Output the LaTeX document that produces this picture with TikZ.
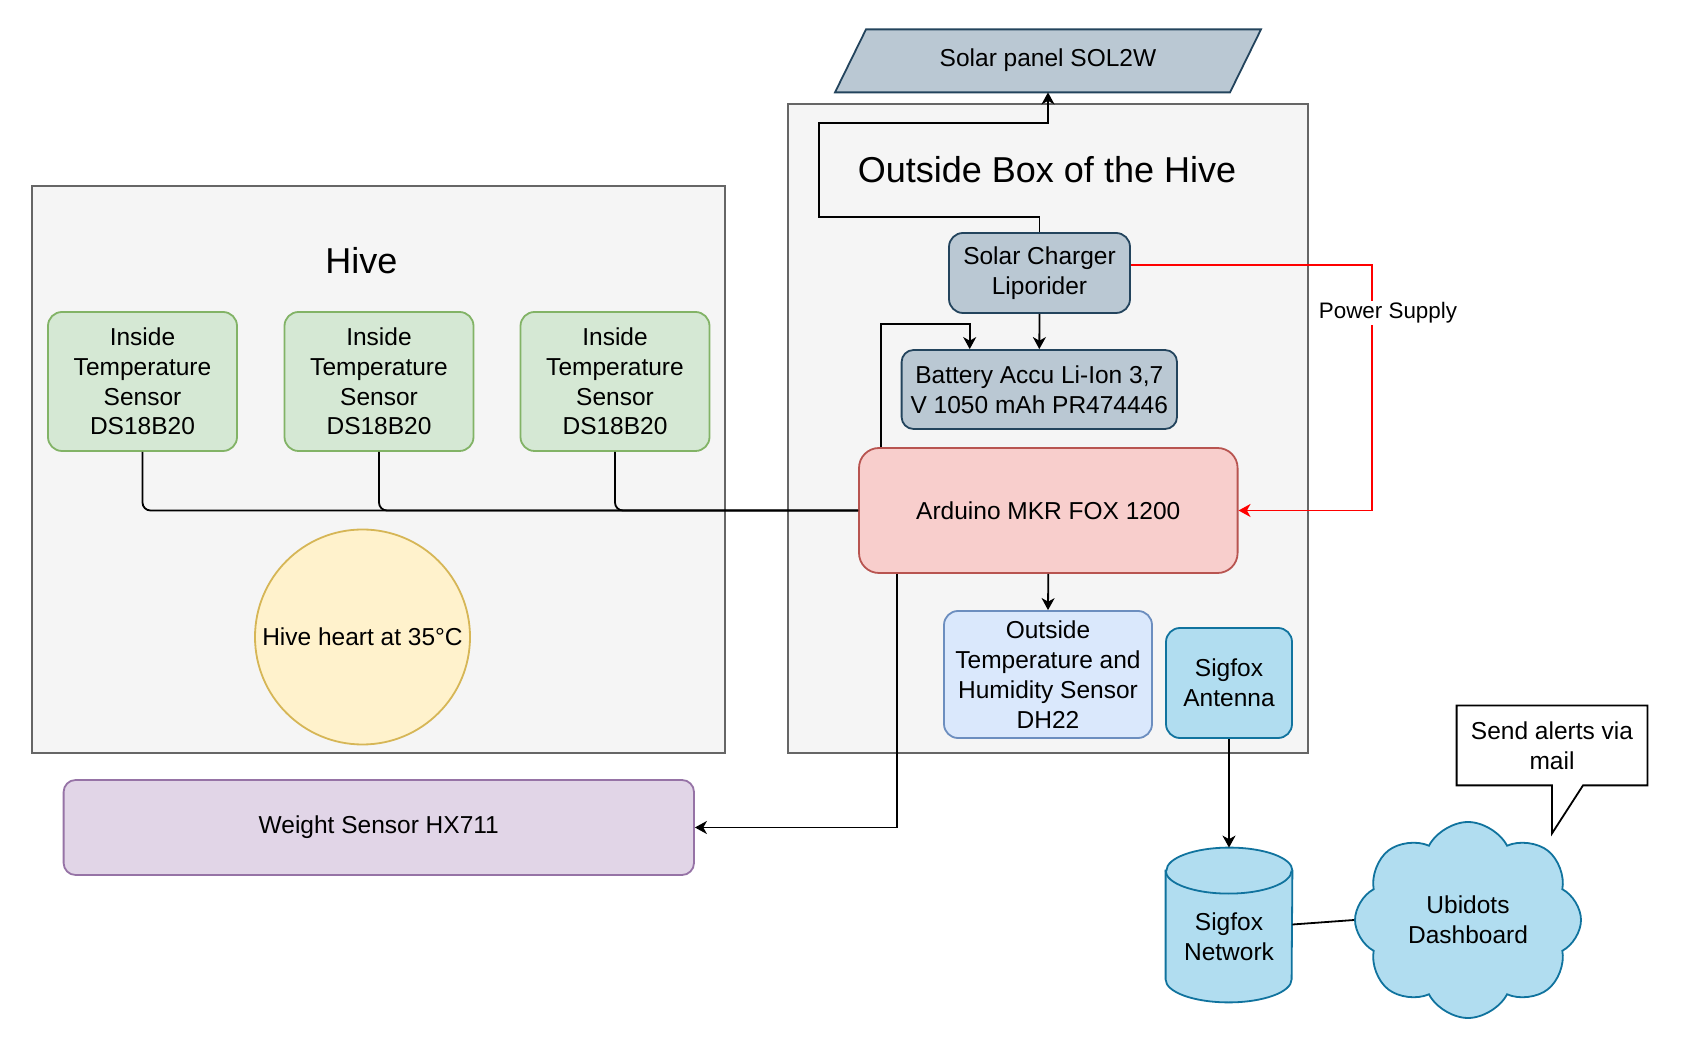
\documentclass[tikz,border=0pt]{standalone}
\usepackage{fontspec}
\setmainfont{Liberation Sans}
\usepackage{tikz}
\usetikzlibrary{calc}
\usetikzlibrary{arrows.meta,shapes,backgrounds}
\usetikzlibrary{positioning}
\usepackage{xcolor}
\definecolor{areafill}{HTML}{F5F5F5}
\definecolor{arealine}{HTML}{666666}
\definecolor{greenfill}{HTML}{D5E8D4}
\definecolor{greenline}{HTML}{82B366}
\definecolor{yellowfill}{HTML}{FFF2CC}
\definecolor{yellowline}{HTML}{D6B656}
\definecolor{slatefill}{HTML}{BAC8D3}
\definecolor{slateline}{HTML}{23445D}
\definecolor{pinkfill}{HTML}{F8CECC}
\definecolor{pinkline}{HTML}{B85450}
\definecolor{bluefill}{HTML}{DAE8FC}
\definecolor{blueline}{HTML}{6C8EBF}
\definecolor{cyanfill}{HTML}{B1DDF0}
\definecolor{cyanline}{HTML}{10739E}
\definecolor{lilacfill}{HTML}{E1D5E7}
\definecolor{lilacline}{HTML}{9673A6}
\definecolor{powerred}{HTML}{FF0000}
\newcommand{\nodefont}{\fontsize{12.25}{14.9}\selectfont}
\newcommand{\titlefont}{\fontsize{18}{21.6}\selectfont}

\tikzset{
  area/.style={draw=arealine,fill=areafill,line width=0.9pt,inner sep=0pt},
  part/.style={draw,line width=0.9pt,rounded corners=7pt,align=center,font=\nodefont},
  sensor/.style={part,fill=greenfill,draw=greenline,minimum width=94.5pt,minimum height=69.5pt},
  power/.style={part,fill=slatefill,draw=slateline},
  plain/.style={align=center,font=\nodefont},
  link/.style={line width=0.9pt,draw=black},
  arr/.style={-{Stealth[length=6pt,width=6.5pt,inset=1.8pt]}},
}

\begin{document}
\begin{tikzpicture}[x=0.5pt,y=-0.5pt]
        \useasboundingbox (0,0) rectangle (1687,1052);
        \begin{scope}[on background layer]
          \fill[white] (0,0) rectangle (1687,1052);
        \end{scope}

        \node[area,minimum width=346.5pt,minimum height=283.5pt] (hive) at (378.5,469.5) {};
        \node[area,minimum width=260pt,minimum height=324.5pt] (outbox) at (1048,428.5) {};
        \node[font=\titlefont] (hivetitle) at (361.5,261) {Hive};
        \node[font=\titlefont] (outtitle) at (1047,170) {Outside Box of the Hive};

        \node[sensor] (s1) at (142.5,381.5) {Inside\\Temperature\\Sensor\\DS18B20};
        \node[sensor] (s2) at (379,381.5) {Inside\\Temperature\\Sensor\\DS18B20};
        \node[sensor] (s3) at (615,381.5) {Inside\\Temperature\\Sensor\\DS18B20};
        \node[circle,draw=yellowline,fill=yellowfill,line width=0.9pt,minimum size=107.5pt,inner sep=0pt,font=\nodefont] (heart) at (362.5,637) {Hive heart at 35°C};

        \node[plain,minimum height=31.5pt] (panel) at (1048,60.5) {Solar panel SOL2W};
        \node[power,minimum width=90.5pt,minimum height=40pt] (charger) at (1039.5,273) {Solar Charger\\Liporider};
        \node[power,rounded corners=6pt,minimum width=137.7pt,minimum height=39.5pt] (battery) at (1039.3,389.5) {Battery Accu Li-Ion 3,7\\V 1050 mAh PR474446};
        \node[part,fill=pinkfill,draw=pinkline,rounded corners=10pt,minimum width=189.3pt,minimum height=62.5pt] (arduino) at (1048.3,510.5) {Arduino MKR FOX 1200};
        \node[part,fill=bluefill,draw=blueline,minimum width=104pt,minimum height=63.5pt] (outsensor) at (1048,674.5) {Outside\\Temperature and\\Humidity Sensor\\DH22};
        \node[part,fill=cyanfill,draw=cyanline,minimum width=63pt,minimum height=55pt] (antenna) at (1229,683) {Sigfox\\Antenna};
        \node[part,fill=lilacfill,draw=lilacline,rounded corners=6pt,minimum width=315.2pt,minimum height=47.5pt] (weight) at (378.8,827.5) {Weight Sensor HX711};

        \node[plain,minimum width=63pt,minimum height=65.5pt] (network) at (1229,936.5) {Sigfox\\Network};
        \node[cloud,cloud puffs=8,cloud puff arc=125,aspect=1.15,draw=cyanline,fill=cyanfill,line width=0.9pt,
          minimum width=113pt,minimum height=98pt,align=center,font=\nodefont] (cloud) at (1468,920) {Ubidots\\Dashboard};
        \node[plain,minimum width=95pt,minimum height=39.5pt] (alert) at (1552,745.5) {Send alerts via\\mail};

        \begin{scope}[on background layer]
          \draw[draw=slateline,fill=slatefill,line width=0.9pt] ($(panel.south)+(-213,0)$) -- ++(31,-63) -- ++(395,0) -- ++(-31,63) -- cycle;
          \draw[draw=cyanline,fill=cyanfill,line width=0.9pt] (network.north west) -- ([yshift=11.5pt]network.south west)
            arc[start angle=180,end angle=360,x radius=31.5pt,y radius=11.5pt] -- (network.north east)
            arc[start angle=0,end angle=180,x radius=31.5pt,y radius=11.5pt] -- cycle;
          \draw[draw=cyanline,line width=0.9pt] (network.north west) arc[start angle=180,end angle=360,x radius=31.5pt,y radius=11.5pt];
          \draw[line width=0.9pt,fill=white] (alert.south west) |- (alert.north east) |- ([xshift=15.5pt]alert.south)
            -- ++(-15.5pt,-24pt) -- (alert.south) -- cycle;
        \end{scope}

        \draw[link,rounded corners=4pt] (s1.south) |- (arduino.west);
        \draw[link,rounded corners=4pt] (s2.south) |- (arduino.west);
        \draw[link,rounded corners=4pt] (s3.south) |- (arduino.west);
        \draw[link,arr] (charger.north) -- ++(0,-15) -| (819,123) -| (panel.south);
        \draw[link,arr] (charger.south) -- (battery.north);
        \draw[link,arr] ($(arduino.north west)+(23,0)$) |- ($(battery.north west)+(69,-25)$) -- ($(battery.north west)+(69,0)$);
        \draw[link,draw=powerred,arr] ($(charger.east)+(0,-8)$) -| ([xshift=66.7pt]arduino.east) -- (arduino.east);
        \node[fill=white,inner sep=1pt,font=\fontsize{11.2}{13.4}\selectfont] (supply) at (1388,313) {Power Supply};
        \draw[link,arr] (arduino.south) -- (outsensor.north);
        \draw[link,arr] ($(arduino.south west)+(39,0)$) |- (weight.east);
        \draw[link,arr] (antenna.south) -- ([yshift=11.5pt]network.north);
        \draw[link] ([yshift=6pt]network.east) -- (cloud.west);
      \end{tikzpicture}
\end{document}
